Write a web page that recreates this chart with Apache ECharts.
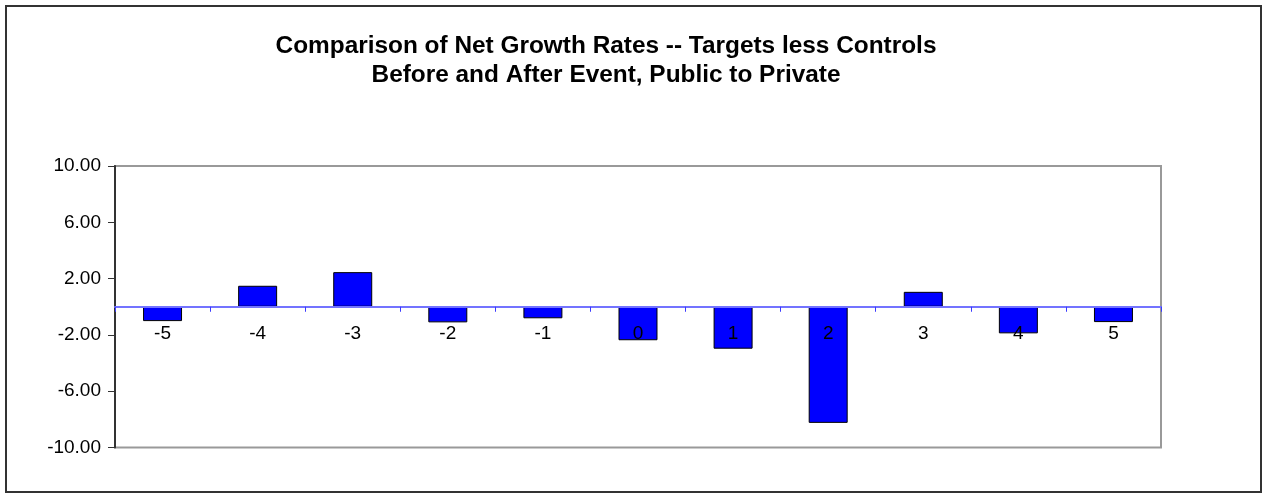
<!DOCTYPE html>
<html>
<head>
<meta charset="utf-8">
<script src="https://cdn.jsdelivr.net/npm/echarts@6/dist/echarts.min.js"></script>
<style>
  html, body { margin: 0; padding: 0; background: #fff; }
  #chart { width: 1262px; height: 495px; }
</style>
</head>
<body>
<div id="chart"></div>
<script>
// Event-relative years and net growth rate differences (targets minus controls)
const years = ['-5', '-4', '-3', '-2', '-1', '0', '1', '2', '3', '4', '5'];
const netGrowth = [-1.02, 1.49, 2.46, -1.11, -0.82, -2.38, -2.98, -8.25, 1.06, -1.89, -1.09];
const titleLines = [
  'Comparison of Net Growth Rates -- Targets less Controls',
  'Before and After Event, Public to Private'
];

const gridTop = 166;
const gridBottom = 47.5;
const chartHeight = 495;
// the value range is symmetric, so zero sits halfway down the plot area
const zeroOffset = (chartHeight - gridTop - gridBottom) / 2;

const chart = echarts.init(document.getElementById('chart'), null, { renderer: 'canvas' });

chart.setOption({
  backgroundColor: '#fff',
  animation: false,
  title: {
    text: titleLines.join('\n'),
    left: 601,
    top: 27,
    textAlign: 'center',
    textStyle: {
      fontFamily: 'Liberation Sans, Arial, sans-serif',
      fontWeight: 'bold',
      fontSize: 24.4,
      lineHeight: 29,
      color: '#000'
    }
  },
  graphic: [{
    type: 'rect',
    shape: { x: 6, y: 6, width: 1255, height: 486 },
    style: { fill: 'none', stroke: '#333', lineWidth: 2 },
    silent: true
  }],
  grid: {
    left: 115,
    right: 101,
    top: gridTop,
    bottom: gridBottom,
    show: true,
    borderColor: '#999',
    borderWidth: 2,
    backgroundColor: '#fff'
  },
  xAxis: {
    type: 'category',
    data: years,
    position: 'bottom',
    offset: -zeroOffset,
    z: 5,
    axisLine: { onZero: false, lineStyle: { color: '#7373ff', width: 2 } },
    axisTick: { show: true, length: 5, lineStyle: { color: '#3a3aff', width: 1 } },
    axisLabel: {
      margin: 18,
      fontFamily: 'Liberation Sans, Arial, sans-serif',
      fontSize: 19,
      color: '#000'
    },
    splitLine: { show: false }
  },
  yAxis: {
    type: 'value',
    min: -10,
    max: 10,
    interval: 4,
    z: 4,
    axisLine: { show: true, lineStyle: { color: '#333', width: 2 } },
    axisTick: { show: true, length: 7, lineStyle: { color: '#333', width: 1 } },
    axisLabel: {
      margin: 14,
      fontFamily: 'Liberation Sans, Arial, sans-serif',
      fontSize: 19,
      color: '#000',
      formatter: v => v.toFixed(2)
    },
    splitLine: { show: false }
  },
  series: [{
    type: 'bar',
    data: netGrowth,
    barWidth: '41%',
    itemStyle: { color: '#0000ff', borderColor: '#000', borderWidth: 1 }
  }]
});
</script>
</body>
</html>
